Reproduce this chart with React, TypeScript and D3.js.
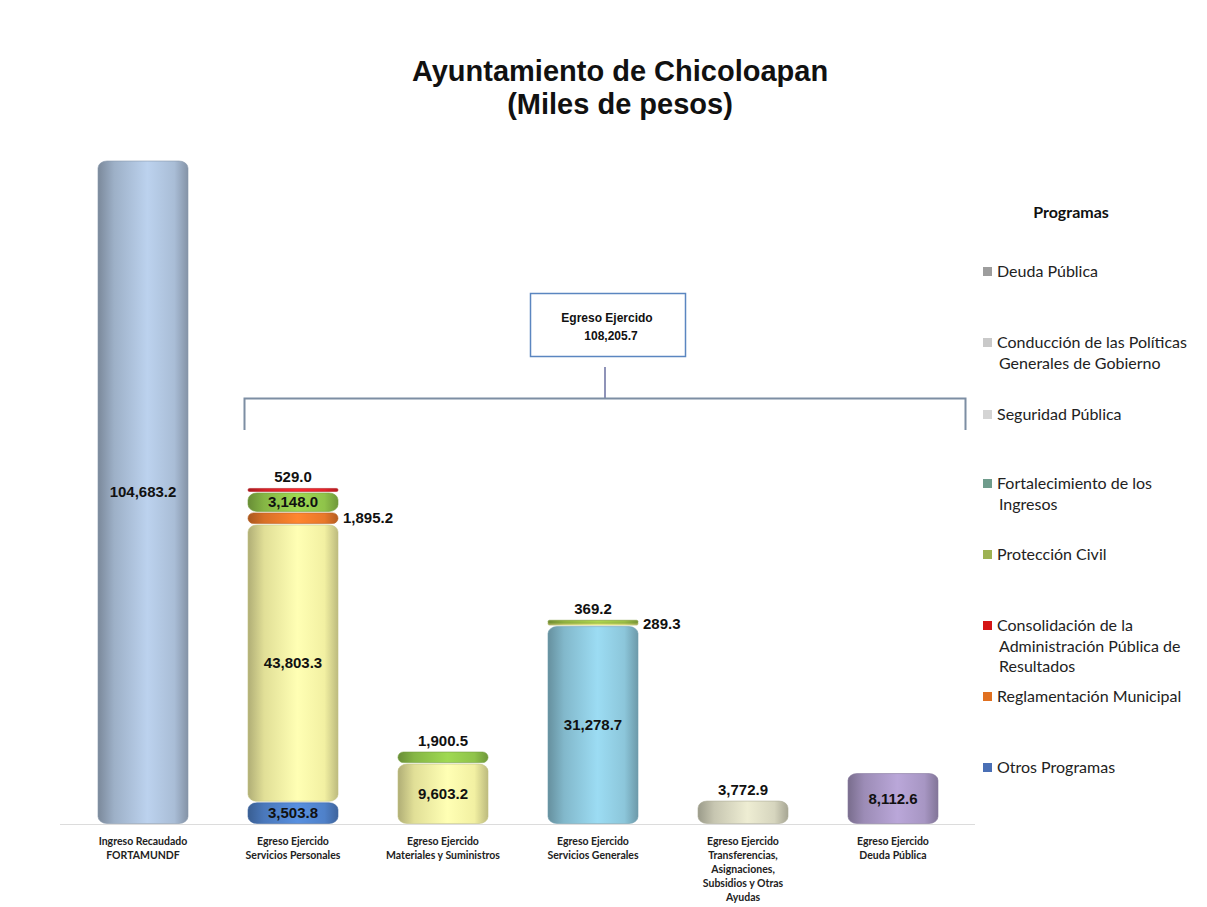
import React from 'react';
import * as d3 from 'd3';

// categories (x axis)
const categories = [
  ['Ingreso Recaudado', 'FORTAMUNDF'],
  ['Egreso Ejercido', 'Servicios Personales'],
  ['Egreso Ejercido', 'Materiales y Suministros'],
  ['Egreso Ejercido', 'Servicios Generales'],
  ['Egreso Ejercido', 'Transferencias,', 'Asignaciones,', 'Subsidios y Otras', 'Ayudas'],
  ['Egreso Ejercido', 'Deuda Pública'],
];

// stacked values per bar, bottom to top (miles de pesos)
const ingresoRecaudado = [104683.2];
const serviciosPersonales = [3503.8, 43803.3, 1895.2, 3148.0, 529.0];
const materialesSuministros = [9603.2, 1900.5];
const serviciosGenerales = [31278.7, 289.3, 369.2];
const transferencias = [3772.9];
const deudaPublica = [8112.6];

const stacks = [
  ingresoRecaudado,
  serviciosPersonales,
  materialesSuministros,
  serviciosGenerales,
  transferencias,
  deudaPublica,
];

// segment colours per bar
const stackColors = [
  ['#a9bdd6'],
  ['#4f81c9', '#f2f0a2', '#e8782a', '#8fc34a', '#e3242b'],
  ['#f2f0a2', '#8fc34a'],
  ['#8cc6da', '#d9e27a', '#9bbf45'],
  ['#d6d5be'],
  ['#a796c3'],
];

// where each value label goes
const labelPlaces = [
  ['inside'],
  ['inside', 'inside', 'right', 'inside', 'above'],
  ['inside', 'above'],
  ['inside', 'right', 'above'],
  ['above'],
  ['inside'],
];

const totalEgreso = 108205.7;

const legendItems = [
  { name: ['Deuda Pública'], color: '#9d9d9d' },
  { name: ['Conducción de las Políticas', 'Generales de Gobierno'], color: '#c9c9c9' },
  { name: ['Seguridad Pública'], color: '#d4d4d4' },
  { name: ['Fortalecimiento de los', 'Ingresos'], color: '#6f9c8c' },
  { name: ['Protección Civil'], color: '#9db253' },
  { name: ['Consolidación de la', 'Administración Pública de', 'Resultados'], color: '#d41515' },
  { name: ['Reglamentación Municipal'], color: '#e07020' },
  { name: ['Otros Programas'], color: '#4a6fb5' },
];
const legendY = [277, 348, 420, 489, 560, 631, 702, 773];

const fmt = d3.format(',.1f');

const App = () => {
  const width = 1207;
  const height = 907;
  const baseY = 824;

  const x = d3.scaleBand<number>()
    .domain(d3.range(categories.length))
    .range([68, 968])
    .paddingInner(0.4)
    .paddingOuter(0.2);

  const totals = stacks.map(s => d3.sum(s));
  const y = d3.scaleLinear()
    .domain([0, d3.max(totals) as number])
    .range([baseY, 160]);

  const gradId = (c: string) => 'g' + c.replace('#', '');
  const allColors = Array.from(new Set(stackColors.flat()));

  const labelFont = '"Liberation Sans", Arial, sans-serif';
  const calibri = 'Lato, "Open Sans", sans-serif';

  return (
    <svg width={width} height={height} style={{ display: 'block', marginLeft: -8, marginTop: -8 }}>
      <defs>
        {allColors.map(c => {
          const base = d3.color(c) as d3.RGBColor;
          return (
            <linearGradient key={c} id={gradId(c)} x1="0" x2="1" y1="0" y2="0">
              <stop offset="0%" stopColor={base.darker(0.9).formatHex()} />
              <stop offset="18%" stopColor={base.darker(0.2).formatHex()} />
              <stop offset="55%" stopColor={base.brighter(0.3).formatHex()} />
              <stop offset="85%" stopColor={base.formatHex()} />
              <stop offset="100%" stopColor={base.darker(0.7).formatHex()} />
            </linearGradient>
          );
        })}
      </defs>
      <rect width={width} height={height} fill="#ffffff" />

      {/* title */}
      <text x={620} y={81} textAnchor="middle" fontFamily={labelFont} fontWeight="bold" fontSize={29} fill="#111">
        Ayuntamiento de Chicoloapan
      </text>
      <text x={620} y={114} textAnchor="middle" fontFamily={labelFont} fontWeight="bold" fontSize={29} fill="#111">
        (Miles de pesos)
      </text>

      {/* baseline */}
      <line x1={60} x2={975} y1={baseY + 0.5} y2={baseY + 0.5} stroke="#dcdcdc" strokeWidth={1} />

      {/* bars */}
      {stacks.map((stack, i) => {
        const bx = x(i) as number;
        const bw = x.bandwidth();
        let cum = 0;
        return (
          <g key={i}>
            {stack.map((v, j) => {
              const y0 = y(cum);
              cum += v;
              const y1 = y(cum);
              const h = Math.max(3, y0 - y1 - 1.5);
              const top = y0 - h - 0.5;
              const rx = Math.min(9, h / 2);
              const color = stackColors[i][j];
              const place = labelPlaces[i][j];
              const cx = bx + bw / 2;
              let lx = cx;
              let ly = top + h / 2 + 5;
              let anchor = 'middle';
              if (place === 'above') {
                ly = top - 6;
              } else if (place === 'right') {
                lx = bx + bw + 5;
                anchor = 'start';
              }
              return (
                <g key={j}>
                  <rect x={bx} y={top} width={bw} height={h} rx={rx} ry={Math.min(7, h / 2)}
                    fill={`url(#${gradId(color)})`} stroke={d3.color(color)!.darker(0.6).formatHex()} strokeWidth={0.6} />
                  <text x={lx} y={ly} textAnchor={anchor} fontFamily={labelFont} fontWeight="bold"
                    fontSize={15} fill="#111">
                    {fmt(v)}
                  </text>
                </g>
              );
            })}
          </g>
        );
      })}

      {/* category labels */}
      {categories.map((lines, i) => {
        const cx = (x(i) as number) + x.bandwidth() / 2;
        return (
          <text key={i} x={cx} y={845} textAnchor="middle" fontFamily={calibri} fontWeight="bold" fontSize={10.5} fill="#222">
            {lines.map((l, k) => (
              <tspan key={k} x={cx} dy={k === 0 ? 0 : 14}>{l}</tspan>
            ))}
          </text>
        );
      })}

      {/* Egreso Ejercido box and bracket */}
      <rect x={530.5} y={293.5} width={155} height={63} fill="#fff" stroke="#5b86c0" strokeWidth={1.5} />
      <text x={607} y={322} textAnchor="middle" fontFamily={labelFont} fontWeight="bold" fontSize={12} fill="#111">
        Egreso Ejercido
      </text>
      <text x={611} y={340} textAnchor="middle" fontFamily={labelFont} fontWeight="bold" fontSize={12} fill="#111">
        {fmt(totalEgreso)}
      </text>
      <line x1={605} x2={605} y1={367} y2={398} stroke="#6a6fa0" strokeWidth={1.5} />
      <path d="M244.5,430 V398.5 H965.5 V430" fill="none" stroke="#7d8ea3" strokeWidth={2} />

      {/* legend */}
      <text x={1071} y={218} textAnchor="middle" fontFamily={calibri} fontWeight="bold" fontSize={16} fill="#111">
        Programas
      </text>
      {legendItems.map((it, i) => (
        <g key={i}>
          <rect x={983} y={legendY[i] - 10} width={9} height={9} fill={it.color} />
          <text x={997} y={legendY[i]} fontFamily={calibri} fontSize={16} fill="#222">
            {it.name.map((l, k) => (
              <tspan key={k} x={997 + (k === 0 ? 0 : 2)} dy={k === 0 ? 0 : 20.5}>{l}</tspan>
            ))}
          </text>
        </g>
      ))}
    </svg>
  );
};

export default App;
